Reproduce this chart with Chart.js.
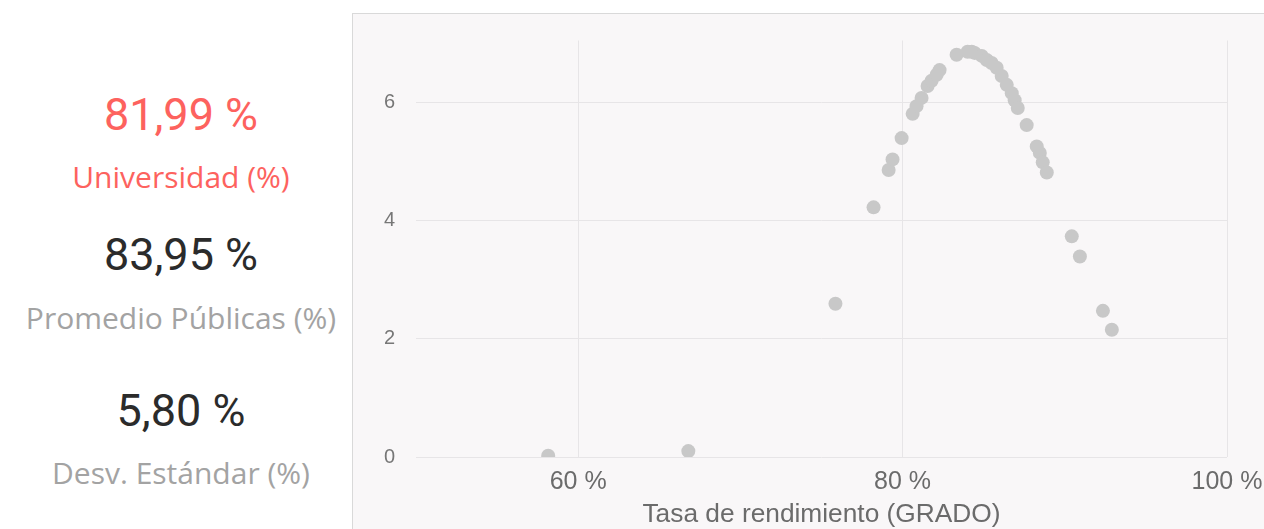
<!DOCTYPE html>
<html lang="es">
<head>
<meta charset="utf-8">
<title>Tasa de rendimiento (GRADO)</title>
<script src="https://cdn.jsdelivr.net/npm/chart.js@4"></script>
<style>
  html, body { margin: 0; padding: 0; background: #ffffff; overflow: hidden; width: 1264px; height: 529px; }
  .kpi { position: absolute; left: 0; width: 362px; text-align: center; line-height: 1; white-space: nowrap; }
  .kpi-val { font-family: Roboto, "Noto Sans", sans-serif; font-size: 45px; color: #2b2b2b; }
  .kpi-lbl { font-family: "Open Sans", "Noto Sans", sans-serif; font-size: 30px; color: #a3a3a3; }
  .kpi-red { color: #fd625e; }
  #panel { position: absolute; left: 352px; top: 13px; width: 960px; height: 530px;
           border: 1px solid #d9d9d9; background: #f9f7f8; }
  #wrap { position: absolute; left: 0; top: 0; width: 960px; height: 530px; }
</style>
</head>
<body>

<div class="kpi kpi-val kpi-red" style="top:92px;">81,99 %</div>
<div class="kpi kpi-lbl kpi-red" style="top:162px;">Universidad (%)</div>
<div class="kpi kpi-val" style="top:232px;">83,95 %</div>
<div class="kpi kpi-lbl" style="top:303px;">Promedio Públicas (%)</div>
<div class="kpi kpi-val" style="top:388px;">5,80 %</div>
<div class="kpi kpi-lbl" style="top:458px;">Desv. Estándar (%)</div>

<div id="panel"><div id="wrap"><canvas id="dist-chart"></canvas></div></div>

<script>
  // ── Datos ────────────────────────────────────────────────────────────────
  const rendimiento = [58.15, 66.79, 75.86, 78.21, 79.14, 79.38, 79.94, 80.62, 80.86, 81.17,
                       81.54, 81.79, 82.10, 82.28, 83.33, 84.01, 84.26, 84.44, 84.88, 85.19,
                       85.49, 85.80, 86.11, 86.42, 86.73, 86.91, 87.10, 87.65, 88.27, 88.46,
                       88.64, 88.89, 90.43, 90.93, 92.35, 92.90];
  const densidad    = [0.02, 0.10, 2.59, 4.22, 4.85, 5.03, 5.39, 5.80, 5.93, 6.07,
                       6.27, 6.36, 6.46, 6.54, 6.80, 6.85, 6.85, 6.83, 6.78, 6.71,
                       6.66, 6.58, 6.44, 6.29, 6.15, 6.03, 5.90, 5.61, 5.25, 5.14,
                       4.98, 4.81, 3.73, 3.39, 2.47, 2.15];
  const xTicks = [60, 80, 100];
  const yTicks = [0, 2, 4, 6];
  const xTitle = "Tasa de rendimiento (GRADO)";

  const AXIS_FONT = '"Liberation Sans", Arial, sans-serif';
  const GRID = "#e7e5e7";

  const points = rendimiento.map((x, i) => ({ x, y: densidad[i] }));

  new Chart(document.getElementById("dist-chart"), {
    type: "scatter",
    data: {
      datasets: [{
        data: points,
        backgroundColor: "#c8c8c8",
        borderWidth: 0,
        pointRadius: 7,
        pointHoverRadius: 7,
      }],
    },
    options: {
      responsive: true,
      maintainAspectRatio: false,
      animation: false,
      events: [],
      layout: { padding: { left: 18, top: 26.5, right: 86, bottom: 0 } },
      plugins: { legend: { display: false }, tooltip: { enabled: false } },
      scales: {
        x: {
          type: "linear",
          min: 50,
          max: 100,
          afterBuildTicks: s => { s.ticks = xTicks.map(v => ({ value: v })); },
          afterFit: s => { s.height = 87; },
          grid: { color: GRID, lineWidth: 1, drawTicks: false },
          border: { display: false },
          ticks: {
            padding: 10,
            color: "#6b6b6b",
            font: { family: AXIS_FONT, size: 25 },
            callback: v => v + " %",
          },
          title: {
            display: true,
            text: xTitle,
            color: "#6b6b6b",
            font: { family: AXIS_FONT, size: 26.3 },
            padding: { top: 0, bottom: 13 },
          },
        },
        y: {
          min: 0,
          max: 7.04,
          afterBuildTicks: s => { s.ticks = yTicks.map(v => ({ value: v })); },
          // ancho fijo y sin relleno extra arriba/abajo por las etiquetas
          afterFit: s => { s.width = 45; s.paddingTop = 0; s.paddingBottom = 0; },
          grid: { color: GRID, lineWidth: 1, drawTicks: false },
          border: { display: false },
          ticks: {
            padding: 21,
            color: "#777777",
            font: { family: AXIS_FONT, size: 20 },
          },
        },
      },
    },
  });
</script>
</body>
</html>
